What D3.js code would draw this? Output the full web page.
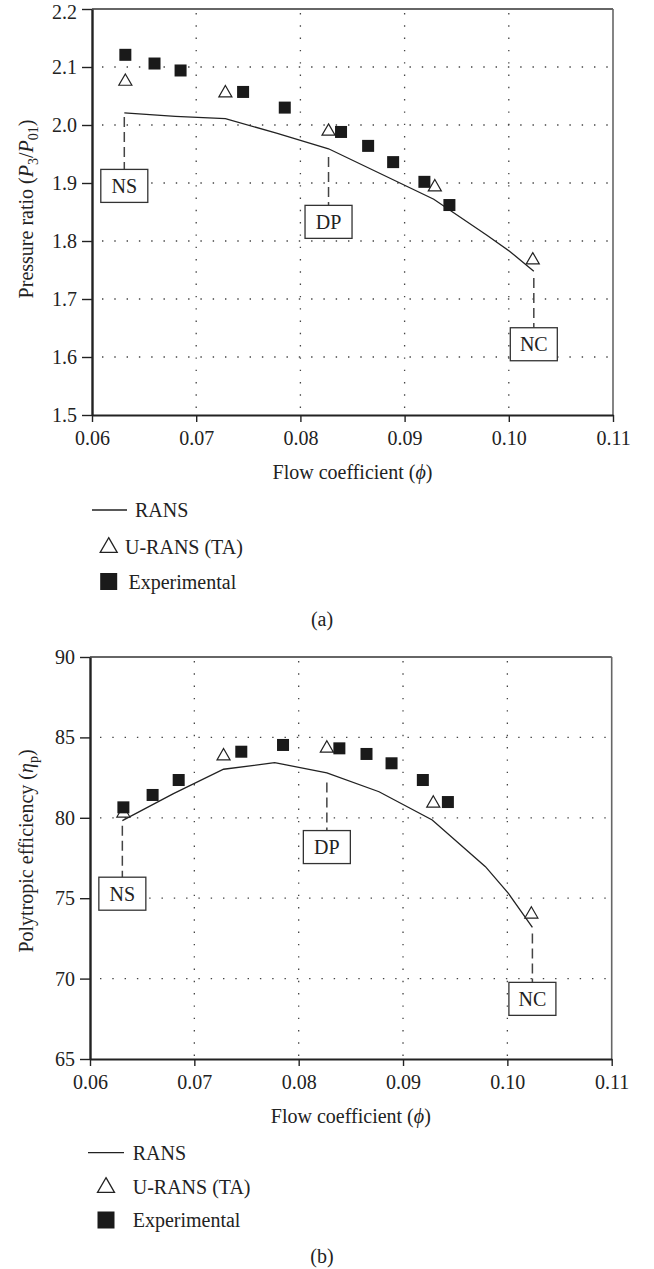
<!DOCTYPE html>
<html>
<head>
<meta charset="utf-8">
<script src="https://cdn.jsdelivr.net/npm/d3@7"></script>
<style>
  html, body { margin: 0; padding: 0; background: #fff; }
  svg { display: block; }
  text { font-family: "Liberation Serif", "Times New Roman", serif; fill: #222; }
</style>
</head>
<body>
<svg id="fig" width="654" height="1269"></svg>
<script>
// Flow coefficient ticks shared by both panels
const phiTicks = [0.06, 0.07, 0.08, 0.09, 0.10, 0.11];
const prTicks = [1.5, 1.6, 1.7, 1.8, 1.9, 2.0, 2.1, 2.2];
const effTicks = [65, 70, 75, 80, 85, 90];

// RANS speedline
const ransPhi = [0.0631, 0.0680, 0.0728, 0.0777, 0.0827, 0.0877, 0.0928, 0.0979, 0.1001, 0.1024];
const ransPR  = [2.021, 2.015, 2.011, 1.986, 1.959, 1.916, 1.872, 1.810, 1.782, 1.748];
const ransEff = [79.82, 81.5, 83.02, 83.43, 82.8, 81.62, 79.86, 76.96, 75.3, 73.19];

// U-RANS (time averaged) points
const uransPhi = [0.0632, 0.0728, 0.0827, 0.0929, 0.1023];
const uransPR  = [2.075, 2.055, 1.989, 1.893, 1.767];
const uransEff = [80.28, 83.84, 84.32, 80.9, 74.0];

// Experimental points
const expPhi = [0.0632, 0.0660, 0.0685, 0.0745, 0.0785, 0.0839, 0.0865, 0.0889, 0.0919, 0.0943];
const expPR  = [2.121, 2.106, 2.094, 2.057, 2.030, 1.988, 1.964, 1.936, 1.902, 1.862];
const expEff = [80.65, 81.42, 82.35, 84.11, 84.53, 84.32, 83.97, 83.39, 82.35, 80.98];

// Operating-point callouts: label, flow coefficient, leader start value, box centre value
const pointLabels = ["NS", "DP", "NC"];
const pointPhi = [0.0631, 0.0827, 0.1024];
const prLeaderFrom = [2.014, 1.945, 1.736];
const prBoxAt = [1.895, 1.833, 1.622];
const effLeaderFrom = [79.5, 82.2, 72.8];
const effBoxAt = [75.28, 78.18, 68.74];

const legendNames = ["RANS", "U-RANS (TA)", "Experimental"];

const svg = d3.select("#fig");
const FONT = 20;

function panel(cfg) {
  const g = svg.append("g");
  const x = d3.scaleLinear().domain([0.06, 0.11]).range([cfg.left, cfg.right]);
  const y = d3.scaleLinear().domain(cfg.domain).range([cfg.bottom, cfg.top]);

  // dotted grid
  const grid = g.append("g").attr("stroke", "#444").attr("stroke-width", 1.3)
    .attr("stroke-dasharray", "1.4,10.9");
  grid.selectAll("line.v").data(phiTicks.slice(1, -1)).join("line")
    .attr("x1", d => x(d)).attr("x2", d => x(d))
    .attr("y1", cfg.top + 4).attr("y2", cfg.bottom);
  grid.selectAll("line.h").data(cfg.ticks.slice(1, -1)).join("line")
    .attr("y1", d => y(d)).attr("y2", d => y(d))
    .attr("x1", cfg.left + 10).attr("x2", cfg.right);

  // frame: top and right thin, left and bottom heavy
  g.append("line").attr("x1", cfg.left).attr("x2", cfg.right).attr("y1", cfg.top).attr("y2", cfg.top)
    .attr("stroke", "#333").attr("stroke-width", 1.6);
  g.append("line").attr("x1", cfg.right).attr("x2", cfg.right).attr("y1", cfg.top).attr("y2", cfg.bottom)
    .attr("stroke", "#666").attr("stroke-width", 1.6);

  const xAxis = d3.axisBottom(x).tickValues(phiTicks).tickFormat(d3.format(".2f"))
    .tickSizeInner(7).tickSizeOuter(0).tickPadding(9);
  const gx = g.append("g").attr("transform", `translate(0,${cfg.bottom})`).call(xAxis);
  gx.select(".domain").attr("stroke", "#222").attr("stroke-width", 2.2);
  gx.selectAll(".tick line").attr("stroke", "#222").attr("stroke-width", 1.4);
  gx.selectAll(".tick text").attr("font-size", FONT).attr("fill", "#222")
    .attr("font-family", "Liberation Serif, serif").attr("dy", "0.71em");

  const yAxis = d3.axisLeft(y).tickValues(cfg.ticks).tickFormat(cfg.fmt)
    .tickSizeInner(10).tickSizeOuter(0).tickPadding(5);
  const gy = g.append("g").attr("transform", `translate(${cfg.left},0)`).call(yAxis);
  gy.select(".domain").attr("stroke", "#222").attr("stroke-width", 2.4);
  gy.selectAll(".tick line").attr("stroke", "#222").attr("stroke-width", 1.4);
  gy.selectAll(".tick text").attr("font-size", FONT).attr("fill", "#222")
    .attr("font-family", "Liberation Serif, serif")
    // keep the topmost label inside the page
    .attr("dy", d => (y(d) < 14 ? "0.46em" : "0.32em"));

  // RANS line
  const line = d3.line().x(d => x(d[0])).y(d => y(d[1]));
  g.append("path").datum(ransPhi.map((p, i) => [p, cfg.rans[i]]))
    .attr("d", line).attr("fill", "none").attr("stroke", "#222").attr("stroke-width", 1.3);

  // U-RANS open triangles
  const tri = d3.symbol().type(d3.symbolTriangle).size(74);
  g.selectAll("path.tri").data(uransPhi.map((p, i) => [p, cfg.urans[i]])).join("path")
    .attr("class", "tri").attr("d", tri)
    .attr("transform", d => `translate(${x(d[0])},${y(d[1])})`)
    .attr("fill", "#fff").attr("stroke", "#222").attr("stroke-width", 1.2);

  // Experimental filled squares
  const sq = 12;
  g.selectAll("rect.exp").data(expPhi.map((p, i) => [p, cfg.exp[i]])).join("rect")
    .attr("class", "exp")
    .attr("x", d => x(d[0]) - sq / 2).attr("y", d => y(d[1]) - sq / 2)
    .attr("width", sq).attr("height", sq).attr("fill", "#1a1a1a");

  // operating-point callouts
  const bw = 47, bh = 33;
  pointLabels.forEach((lab, i) => {
    const cx = x(pointPhi[i]), cy = y(cfg.boxAt[i]);
    g.append("line").attr("x1", cx).attr("x2", cx)
      .attr("y1", y(cfg.leaderFrom[i])).attr("y2", cy - bh / 2)
      .attr("stroke", "#444").attr("stroke-width", 1.5).attr("stroke-dasharray", "10,5");
    g.append("rect").attr("x", cx - bw / 2).attr("y", cy - bh / 2)
      .attr("width", bw).attr("height", bh)
      .attr("fill", "#fff").attr("stroke", "#333").attr("stroke-width", 1.3);
    g.append("text").attr("x", cx).attr("y", cy + 7).attr("text-anchor", "middle")
      .attr("font-size", FONT).text(lab);
  });

  // x title
  const xt = g.append("text").attr("x", (cfg.left + cfg.right) / 2).attr("y", cfg.bottom + 64)
    .attr("text-anchor", "middle").attr("font-size", FONT);
  xt.append("tspan").text("Flow coefficient (");
  xt.append("tspan").attr("font-style", "italic").text("ϕ");
  xt.append("tspan").text(")");

  // y title
  const yt = g.append("text")
    .attr("transform", `translate(33,${cfg.yTitleAt}) rotate(-90)`)
    .attr("text-anchor", "middle").attr("font-size", FONT);
  cfg.yTitle(yt);

  // legend
  const L = cfg.legend;
  g.append("line").attr("x1", L.lineX0).attr("x2", L.lineX1).attr("y1", L.rows[0]).attr("y2", L.rows[0])
    .attr("stroke", "#222").attr("stroke-width", 1.3);
  g.append("path").attr("d", d3.symbol().type(d3.symbolTriangle).size(125)())
    .attr("transform", `translate(${L.markX},${L.rows[1] + 1})`)
    .attr("fill", "#fff").attr("stroke", "#222").attr("stroke-width", 1.3);
  g.append("rect").attr("x", L.markX - 8.5).attr("y", L.rows[2] - 8.5)
    .attr("width", 17).attr("height", 17).attr("fill", "#1a1a1a");
  legendNames.forEach((n, i) => {
    g.append("text").attr("x", L.textX[i]).attr("y", L.rows[i] + 7)
      .attr("font-size", FONT).text(n);
  });

  g.append("text").attr("x", 322).attr("y", cfg.tag.y).attr("text-anchor", "middle")
    .attr("font-size", FONT).text(cfg.tag.text);
}

panel({
  left: 92, right: 613, top: 9, bottom: 415,
  domain: [1.5, 2.2], ticks: prTicks, fmt: d3.format(".1f"),
  rans: ransPR, urans: uransPR, exp: expPR,
  leaderFrom: prLeaderFrom, boxAt: prBoxAt,
  yTitleAt: 209,
  yTitle: t => {
    t.append("tspan").text("Pressure ratio (");
    t.append("tspan").attr("font-style", "italic").text("P");
    t.append("tspan").attr("font-size", 14).attr("dy", 5).text("3");
    t.append("tspan").attr("dy", -5).text("/");
    t.append("tspan").attr("font-style", "italic").text("P");
    t.append("tspan").attr("font-size", 14).attr("dy", 5).text("01");
    t.append("tspan").attr("dy", -5).text(")");
  },
  legend: { lineX0: 92, lineX1: 127, markX: 108.7, rows: [510, 546.5, 581.5], textX: [135, 125, 128.5] },
  tag: { text: "(a)", y: 626 }
});

panel({
  left: 90, right: 611.7, top: 657, bottom: 1059,
  domain: [65, 90], ticks: effTicks, fmt: d3.format("d"),
  rans: ransEff, urans: uransEff, exp: expEff,
  leaderFrom: effLeaderFrom, boxAt: effBoxAt,
  yTitleAt: 851,
  yTitle: t => {
    t.append("tspan").text("Polytropic efficiency (");
    t.append("tspan").attr("font-style", "italic").text("η");
    t.append("tspan").attr("font-size", 14).attr("dy", 5).text("p");
    t.append("tspan").attr("dy", -5).text(")");
  },
  legend: { lineX0: 88, lineX1: 124, markX: 106, rows: [1152.7, 1186.5, 1220], textX: [132.7, 132.7, 132.7] },
  tag: { text: "(b)", y: 1263 }
});
</script>
</body>
</html>
